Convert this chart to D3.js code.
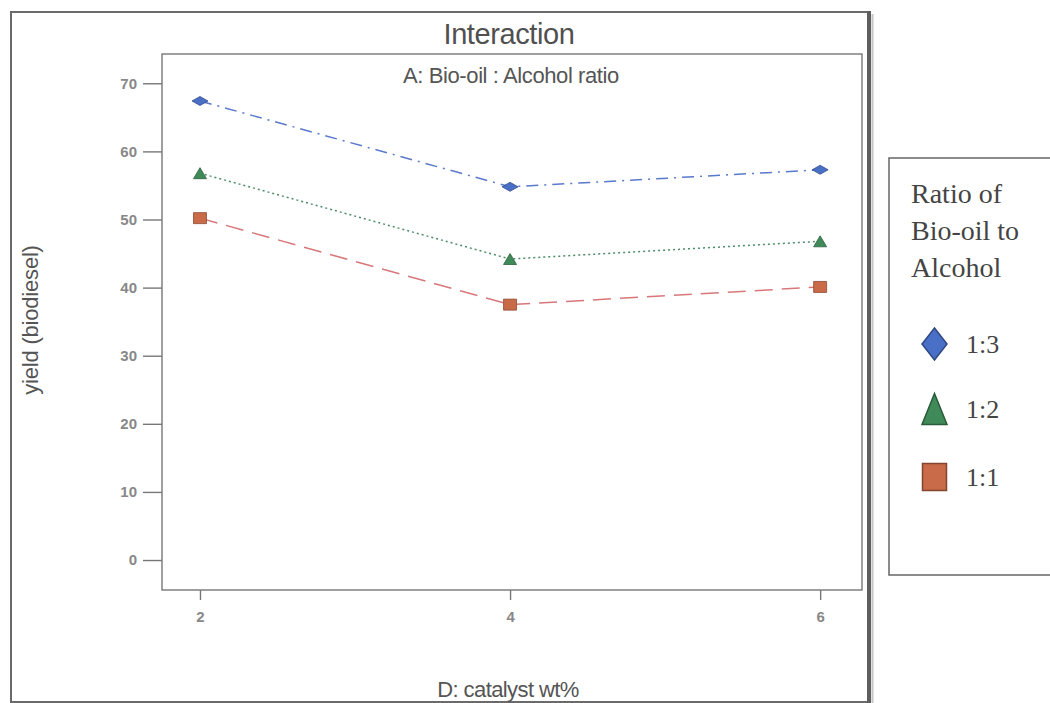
<!DOCTYPE html>
<html>
<head>
<meta charset="utf-8">
<script src="https://cdn.jsdelivr.net/npm/d3@7"></script>
<style>
  html, body { margin: 0; padding: 0; background: #fff; }
  svg { display: block; }
</style>
</head>
<body>
<svg id="chart" width="1050" height="703"></svg>
<script>
// Catalyst loading levels (x) and biodiesel yield per bio-oil:alcohol ratio
const catalystLevels = [2, 4, 6];
const yTickValues = [0, 10, 20, 30, 40, 50, 60, 70];
const ratioNames = ["1:3", "1:2", "1:1"];
const yield13 = [67.4, 54.8, 57.3];
const yield12 = [56.8, 44.2, 46.8];
const yield11 = [50.2, 37.5, 40.1];

const series = [
  { name: ratioNames[0], values: yield13, color: "#5a78cc", fill: "#4a6fc6", shape: "diamond", dash: "12,6,2,6" },
  { name: ratioNames[1], values: yield12, color: "#4d8c6a", fill: "#3f8a58", shape: "triangle", dash: "2,3" },
  { name: ratioNames[2], values: yield11, color: "#d8777a", fill: "#c96a48", shape: "square", dash: "18,9" }
];

const svg = d3.select("#chart");
const plot = { left: 162, top: 54, right: 862, bottom: 590 };
const sans = "Liberation Sans, Arial, sans-serif";
const serif = "Liberation Serif, Times New Roman, serif";

const x = d3.scaleLinear().domain([1.755, 6.27]).range([plot.left, plot.right]);
const y = d3.scaleLinear().domain([-4.4, 74.3]).range([plot.bottom, plot.top]);

// Outer chart frame
svg.append("rect")
  .attr("x", 11).attr("y", 12).attr("width", 859).attr("height", 690)
  .attr("fill", "none").attr("stroke", "#6a6a6a").attr("stroke-width", 2);
svg.append("line")
  .attr("x1", 869).attr("x2", 869).attr("y1", 11).attr("y2", 703)
  .attr("stroke", "#5e5e5e").attr("stroke-width", 4);
svg.append("line")
  .attr("x1", 872.5).attr("x2", 872.5).attr("y1", 14).attr("y2", 703)
  .attr("stroke", "#c4c4c4").attr("stroke-width", 2);

// Plot frame
svg.append("rect")
  .attr("x", plot.left).attr("y", plot.top)
  .attr("width", plot.right - plot.left).attr("height", plot.bottom - plot.top)
  .attr("fill", "none").attr("stroke", "#777").attr("stroke-width", 1.4);

// Titles
svg.append("text")
  .attr("x", 509).attr("y", 44)
  .attr("text-anchor", "middle")
  .attr("font-family", sans)
  .attr("font-size", 29).attr("fill", "#505050")
  .attr("letter-spacing", -0.4)
  .text("Interaction");

svg.append("text")
  .attr("x", 511).attr("y", 83)
  .attr("text-anchor", "middle")
  .attr("font-family", sans)
  .attr("font-size", 22).attr("fill", "#555")
  .attr("letter-spacing", -0.4)
  .text("A: Bio-oil : Alcohol ratio");

// Y axis
const yAxis = d3.axisLeft(y).tickValues(yTickValues).tickSize(19).tickPadding(6);
const gy = svg.append("g").attr("transform", `translate(${plot.left},0)`).call(yAxis);
gy.select(".domain").remove();
gy.selectAll(".tick line").attr("stroke", "#777").attr("stroke-width", 1.4);
gy.selectAll(".tick text")
  .attr("font-family", sans)
  .attr("font-size", 15).attr("fill", "#888").attr("font-weight", "bold");

// X axis
const xAxis = d3.axisBottom(x).tickValues(catalystLevels).tickFormat(d3.format("d"))
  .tickSize(10).tickPadding(11);
const gx = svg.append("g").attr("transform", `translate(0,${plot.bottom})`).call(xAxis);
gx.select(".domain").remove();
gx.selectAll(".tick line").attr("stroke", "#777").attr("stroke-width", 1.4);
gx.selectAll(".tick text")
  .attr("font-family", sans)
  .attr("font-size", 15).attr("fill", "#888").attr("font-weight", "bold");

// Axis titles
svg.append("text")
  .attr("transform", `translate(38,320) rotate(-90)`)
  .attr("text-anchor", "middle")
  .attr("font-family", sans)
  .attr("font-size", 22).attr("fill", "#555")
  .attr("letter-spacing", -0.2)
  .text("yield (biodiesel)");

svg.append("text")
  .attr("x", 508).attr("y", 697)
  .attr("text-anchor", "middle")
  .attr("font-family", sans)
  .attr("font-size", 22).attr("fill", "#555")
  .attr("letter-spacing", -0.6)
  .text("D: catalyst wt%");

// Marker shapes
const symbolPath = {
  diamond: (w, h) => `M0,${-h/2}L${w/2},0L0,${h/2}L${-w/2},0Z`,
  triangle: (w, h) => `M0,${-h/2}L${w/2},${h/2}L${-w/2},${h/2}Z`,
  square: (w, h) => `M${-w/2},${-h/2}H${w/2}V${h/2}H${-w/2}Z`
};
const plotMarkerSize = { diamond: [16, 9], triangle: [13, 11], square: [13, 11] };

// Lines and markers
const line = d3.line().x((d, i) => x(catalystLevels[i])).y(d => y(d));
series.forEach(s => {
  svg.append("path")
    .datum(s.values)
    .attr("d", line)
    .attr("fill", "none")
    .attr("stroke", s.color)
    .attr("stroke-width", 1.5)
    .attr("stroke-dasharray", s.dash);
  const [w, h] = plotMarkerSize[s.shape];
  svg.selectAll(null)
    .data(s.values)
    .enter().append("path")
    .attr("transform", (d, i) => `translate(${x(catalystLevels[i])},${y(d)})`)
    .attr("d", symbolPath[s.shape](w, h))
    .attr("fill", s.fill)
    .attr("stroke", d3.color(s.fill).darker(1))
    .attr("stroke-width", 0.8);
});

// Legend
const legend = svg.append("g");
legend.append("rect")
  .attr("x", 889).attr("y", 158).attr("width", 170).attr("height", 417)
  .attr("fill", "#fff").attr("stroke", "#666").attr("stroke-width", 1.5);

const legendTitle = ["Ratio of", "Bio-oil to", "Alcohol"];
legend.selectAll(null)
  .data(legendTitle)
  .enter().append("text")
  .attr("x", 911)
  .attr("y", (d, i) => 203 + i * 37)
  .attr("font-family", serif)
  .attr("font-size", 28).attr("fill", "#444")
  .text(d => d);

const legendMarker = { diamond: [25, 32], triangle: [25, 31], square: [24, 27] };
const legendY = [344, 409, 477];
series.forEach((s, i) => {
  const [w, h] = legendMarker[s.shape];
  legend.append("path")
    .attr("transform", `translate(934.5,${legendY[i]})`)
    .attr("d", symbolPath[s.shape](w, h))
    .attr("fill", s.fill)
    .attr("stroke", d3.color(s.fill).darker(1.2))
    .attr("stroke-width", 1.5);
  legend.append("text")
    .attr("x", 966).attr("y", legendY[i] + 9)
    .attr("font-family", serif)
    .attr("font-size", 26).attr("fill", "#444")
    .text(s.name);
});
</script>
</body>
</html>
